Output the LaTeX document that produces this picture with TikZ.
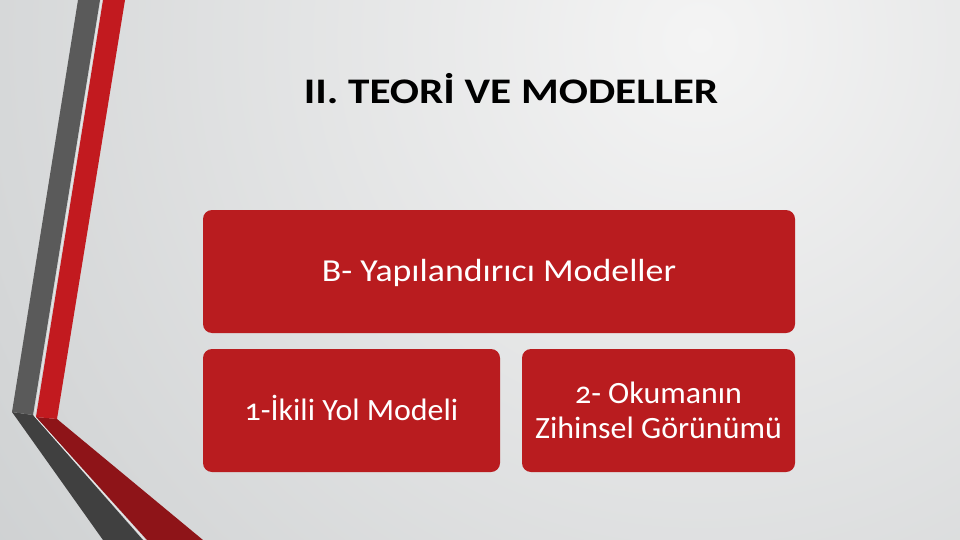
\documentclass[tikz,border=0pt]{standalone}
\usepackage{fontspec}
\setmainfont[Numbers=OldStyle]{Carlito}
\newfontfamily\titlefont[FakeStretch=1.2]{Carlito}
\newfontfamily\topfont[FakeStretch=1.12]{Carlito}
\newfontfamily\subfont[FakeStretch=1.03,Numbers=OldStyle]{Carlito}
\definecolor{bgin}{HTML}{F4F4F4}
\definecolor{bgout}{HTML}{B4B8BA}
\definecolor{boxred}{HTML}{B91C1F}
\definecolor{stripegray}{HTML}{5A5A5A}
\definecolor{stripegrayd}{HTML}{404040}
\definecolor{stripered}{HTML}{C21A1F}
\definecolor{striperedd}{HTML}{8E1418}
\tikzset{
  redbox/.style={fill=boxred, rounded corners=9pt, draw=none},
  boxtext/.style={text=white, align=center, inner sep=0pt},
  edge/.style={draw=white!85!gray, line width=0.6pt}
}
\begin{document}
\begin{tikzpicture}[x=1pt,y=-1pt]
\useasboundingbox (0,0) rectangle (960,540);
% background
\begin{scope}
\clip (0,0) rectangle (960,540);
\fill[inner color=bgin, outer color=bgout] (700,40) circle (1500);
\end{scope}
% stripes
\fill[stripegrayd] (12,412) -- (33,415) -- (143,540) -- (103,540) -- cycle;
\fill[striperedd] (36,417) -- (57,419) -- (203,540) -- (147,540) -- cycle;
\fill[stripegray] (78,0) -- (100,0) -- (33,415) -- (12,412) -- cycle;
\fill[stripered] (103,0) -- (125,0) -- (57,419) -- (36,417) -- cycle;
\draw[edge] (101.5,0) -- (34.5,416) -- (145,540);
% title
\node[anchor=base, inner sep=0pt, font=\titlefont\bfseries\fontsize{36}{42}\selectfont, text=black] (title) at (511,104) {II. TEORİ VE MODELLER};
% boxes
\path[redbox] (203,210) rectangle (795,333);
\node[boxtext, anchor=base, font=\topfont\fontsize{32}{38}\selectfont] (top) at (499,281) {B- Yapılandırıcı Modeller};
\path[redbox] (203,349) rectangle (500,472);
\node[boxtext, anchor=base, font=\subfont\fontsize{31}{35}\selectfont] (left) at (351.5,420) {1-İkili Yol Modeli};
\path[redbox] (522,349) rectangle (795,472);
\node[boxtext, font=\subfont\fontsize{31}{35}\selectfont] (right) at (658.5,410) {2- Okumanın\\Zihinsel Görünümü};
\end{tikzpicture}
\end{document}
